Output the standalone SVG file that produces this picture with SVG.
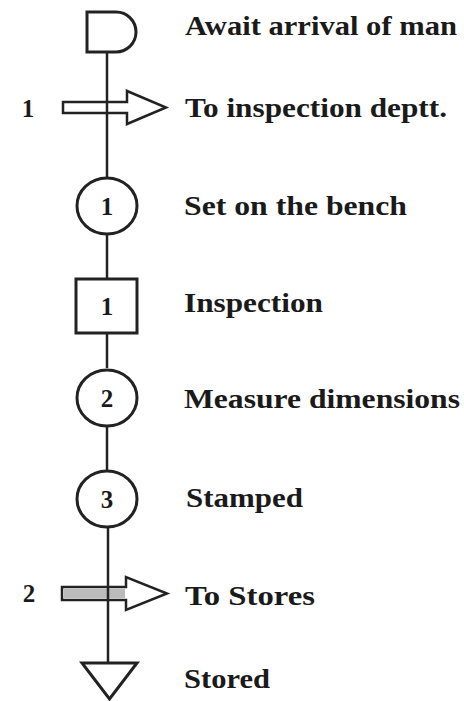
<svg xmlns="http://www.w3.org/2000/svg" width="464" height="701" viewBox="0 0 464 701">
<style>
  .shape { fill: #fff; stroke: #222; stroke-width: 3; }
  .conn { stroke: #222; stroke-width: 2.5; fill: none; }
  .lbl { font-family: "Liberation Serif", "Times New Roman", serif; font-weight: bold; font-size: 27px; fill: #1a1a1a; }
  .num { font-family: "Liberation Serif", "Times New Roman", serif; font-weight: bold; font-size: 25px; fill: #1a1a1a; text-anchor: middle; }
</style>
<rect width="464" height="701" fill="#fff"/>
<g id="connectors">
  <line class="conn" x1="107" y1="52" x2="107" y2="177"/>
  <line class="conn" x1="107" y1="235" x2="107" y2="278"/>
  <line class="conn" x1="107" y1="333" x2="107" y2="368"/>
  <line class="conn" x1="107" y1="427" x2="107" y2="470"/>
  <line class="conn" x1="108" y1="528" x2="108" y2="662"/>
</g>
<g id="n1-delay">
  <path class="shape" d="M87,12 H116 A20,20 0 0 1 116,52 H87 Z"/>
  <text class="lbl" x="185" y="35" textLength="272" lengthAdjust="spacingAndGlyphs">Await arrival of man</text>
</g>
<g id="n2-transport">
  <text class="num" x="28" y="117">1</text>
  <polygon points="63,102 127,102 127,91 166,107.5 127,124 127,113 63,113" fill="#fff" stroke="#222" stroke-width="2.5"/>
  <line class="conn" x1="107" y1="102" x2="107" y2="113"/>
  <text class="lbl" x="185" y="117" textLength="262" lengthAdjust="spacingAndGlyphs">To inspection deptt.</text>
</g>
<g id="n3-op1">
  <ellipse class="shape" cx="107" cy="206" rx="30" ry="28"/>
  <text class="num" x="107" y="215">1</text>
  <text class="lbl" x="184" y="215" textLength="223" lengthAdjust="spacingAndGlyphs">Set on the bench</text>
</g>
<g id="n4-inspection">
  <rect class="shape" x="76" y="279" width="61" height="54"/>
  <text class="num" x="107" y="315">1</text>
  <text class="lbl" x="184" y="312" textLength="139" lengthAdjust="spacingAndGlyphs">Inspection</text>
</g>
<g id="n5-op2">
  <ellipse class="shape" cx="107" cy="398" rx="30" ry="28"/>
  <text class="num" x="107" y="407">2</text>
  <text class="lbl" x="184" y="408" textLength="276" lengthAdjust="spacingAndGlyphs">Measure dimensions</text>
</g>
<g id="n6-op3">
  <ellipse class="shape" cx="107" cy="499" rx="30" ry="28"/>
  <text class="num" x="107" y="508">3</text>
  <text class="lbl" x="186" y="507" textLength="117" lengthAdjust="spacingAndGlyphs">Stamped</text>
</g>
<g id="n7-transport">
  <text class="num" x="29" y="602">2</text>
  <polygon points="62,587 126,587 126,577 167,593.5 126,610 126,600 62,600" fill="#fff" stroke="#222" stroke-width="2.5"/>
  <rect x="64" y="589" width="61" height="9" fill="#bbb"/>
  <line class="conn" x1="108" y1="587" x2="108" y2="600"/>
  <text class="lbl" x="185" y="605" textLength="130" lengthAdjust="spacingAndGlyphs">To Stores</text>
</g>
<g id="n8-storage">
  <polygon class="shape" points="82,663 137,663 109.5,699"/>
  <text class="lbl" x="184" y="688" textLength="86" lengthAdjust="spacingAndGlyphs">Stored</text>
</g>
</svg>
